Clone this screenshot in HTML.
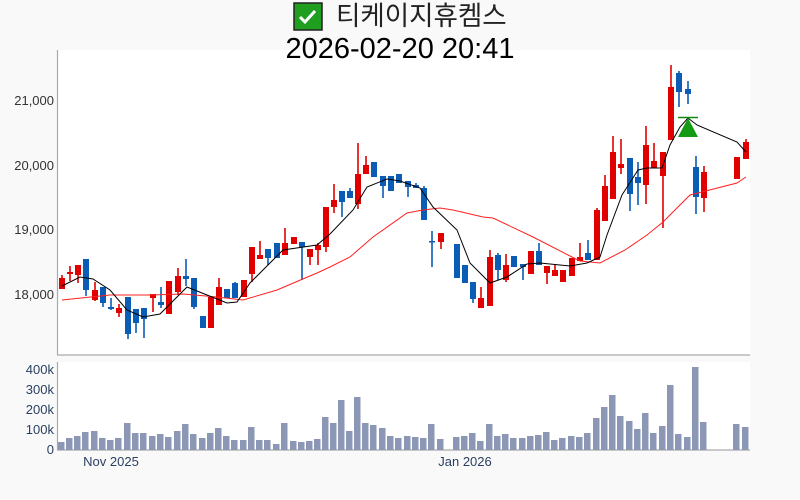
<!DOCTYPE html>
<html><head><meta charset="utf-8"><style>
body{margin:0;background:#f9f9f9;}
svg{display:block;font-family:"Liberation Sans","Noto Sans CJK KR",sans-serif;}
</style></head><body>
<svg width="800" height="500" viewBox="0 0 800 500" xmlns="http://www.w3.org/2000/svg">
<rect width="800" height="500" fill="#f9f9f9"/>
<rect x="58" y="50" width="692" height="305" fill="#fff"/>
<rect x="58" y="362" width="692" height="88" fill="#fff"/>
<rect x="294" y="3" width="28" height="27" fill="#1f9e1f" stroke="#222" stroke-width="1.5"/>
<path d="M300 17 l5 5 l10 -11" stroke="#fff" stroke-width="3" fill="none"/>
<text x="336" y="25" font-size="26.5" fill="#222">티케이지휴켐스</text>
<text x="400" y="58" font-size="29" text-anchor="middle" fill="#000">2026-02-20 20:41</text>
<g stroke="#aaa" stroke-width="1.2"><line x1="57.5" y1="50" x2="57.5" y2="355"/><line x1="57" y1="355" x2="750" y2="355"/><line x1="57.5" y1="362" x2="57.5" y2="450"/><line x1="57" y1="450" x2="750" y2="450"/></g>
<g font-size="13" fill="#333" text-anchor="end"><text x="54" y="105">21,000</text><text x="54" y="170">20,000</text><text x="54" y="234">19,000</text><text x="54" y="299">18,000</text></g>
<g font-size="13" fill="#2a3f5f" text-anchor="end"><text x="54" y="374">400k</text><text x="54" y="394">300k</text><text x="54" y="414">200k</text><text x="54" y="434">100k</text><text x="54" y="454">0</text></g>
<g font-size="13" fill="#2a3f5f" text-anchor="middle"><text x="111" y="466">Nov 2025</text><text x="465" y="466">Jan 2026</text></g>
<g id="c"></g><g id="v"></g>
<polyline fill="none" stroke="#ff2020" stroke-width="1" points="62,300 110,295 150,295 183,294 217,297 243,300 277,290 317,273 330,267 350,257 373,237 407,213 423,210 440,208 453,210 483,217 493,218 533,237 570,256 580,261 600,263 625,250 647,235 663,222 690,195 737,183 746,177"/>
<polyline fill="none" stroke="#000" stroke-width="1" points="62,286 80,277 93,279 110,290 127,310 143,317 160,314 187,287 207,295 227,303 237,302 250,283 283,250 317,245 330,234 353,210 367,187 387,179 400,181 420,188 433,207 457,230 470,263 490,283 507,277 527,264 540,263 570,266 587,263 600,257 607,235 622,195 638,170 647,168 662,168 670,145 680,127 688,118 697,125 737,142 746,152"/>
<line x1="678" y1="117.5" x2="698" y2="117.5" stroke="#128a12" stroke-width="1.5"/>
<polygon points="688,118 678,137 698,137" fill="#139c13"/>
<rect x="750" y="40" width="50" height="420" fill="#f9f9f9"/>
</svg>
<script>
var C=[[62,'r',278,289,275,289],[70,'r',272,274,266,281],[78,'r',265,275,265,283],[86,'b',259,290,259,296],[95,'r',290,300,282,301],[103,'b',287,303,287,307],[111,'b',307,309,298,310],[119,'r',308,313,304,317],[128,'b',297,334,297,339],[136,'b',309,323,309,333],[144,'b',308,319,308,338],[153,'r',294,298,294,312],[161,'b',302,305,287,308],[169,'r',281,314,281,314],[178,'r',276,292,268,295],[186,'b',276,279,259,286],[194,'b',278,307,278,309],[203,'b',316,328,316,328],[211,'r',297,328,297,328],[219,'r',287,305,278,305],[227,'b',289,298,289,298],[235,'b',283,298,282,298],[244,'r',280,297,280,297],[252,'r',247,274,247,282],[260,'r',255,259,241,259],[268,'b',249,258,249,265],[277,'b',243,258,243,258],[285,'r',243,255,228,255],[294,'r',237,244,237,244],[302,'b',242,247,242,280],[310,'r',249,257,249,265],[318,'r',245,250,243,265],[326,'r',207,247,207,252],[334,'r',200,207,184,213],[342,'b',191,202,191,217],[350,'b',191,198,188,198],[358,'r',174,204,143,209],[366,'r',165,174,156,174],[374,'b',162,177,162,177],[383,'b',176,186,176,198],[391,'b',176,191,176,191],[399,'b',174,183,174,183],[408,'b',181,187,181,197],[416,'b',185,188,183,188],[424,'b',188,220,186,220],[432,'b',241,242,231,267],[441,'r',233,242,233,249],[457,'b',244,278,244,278],[465,'b',265,283,265,283],[473,'b',282,299,282,303],[481,'r',298,308,287,308],[490,'r',257,306,250,306],[498,'b',255,270,253,280],[506,'r',265,280,254,282],[514,'b',256,267,256,267],[523,'b',264,267,264,280],[531,'r',251,274,251,274],[539,'b',251,265,243,265],[547,'r',266,273,266,284],[555,'r',270,276,265,276],[563,'r',270,282,270,282],[572,'r',258,276,258,276],[580,'r',257,261,243,261],[588,'b',253,260,240,260],[597,'r',210,260,208,260],[605,'r',186,221,175,221],[613,'r',152,199,136,199],[621,'r',164,168,139,174],[630,'b',158,194,158,211],[638,'b',177,183,162,205],[646,'r',145,185,126,204],[654,'r',161,168,143,168],[663,'r',152,176,152,228],[671,'r',87,140,65,140],[679,'b',73,92,71,107],[688,'b',89,94,81,104],[696,'b',167,197,156,214],[704,'r',172,198,166,212],[737,'r',157,179,157,179],[746,'r',142,159,139,159]];
var V=[442,438,436,432,431,438,440,438,423,433,433,436,434,437,431,424,434,438,433,428,436,440,440,427,440,440,444,423,441,442,441,439,417,423,400,431,397,423,425,428,436,438,436,437,438,424,439,437,436,433,441,424,436,434,438,438,436,435,432,440,438,436,437,433,418,407,395,416,421,429,413,433,426,385,434,437,367,422,424,427];
var ns='http://www.w3.org/2000/svg',g=document.getElementById('c'),gv=document.getElementById('v');
function el(p,t,a){var e=document.createElementNS(ns,t);for(var k in a)e.setAttribute(k,a[k]);p.appendChild(e);}
C.forEach(function(c,i){var col=c[1]=='r'?'#e00000':'#0b5cb5';
el(g,'line',{x1:c[0],x2:c[0],y1:c[4],y2:c[5],stroke:col,'stroke-width':1.6});
el(g,'rect',{x:c[0]-3,y:c[2],width:6,height:Math.max(1.5,c[3]-c[2]),fill:col});
el(gv,'rect',{x:c[0]-4,y:V[i],width:6.5,height:450-V[i],fill:'#8c97b5'});});
</script>
</body></html>
